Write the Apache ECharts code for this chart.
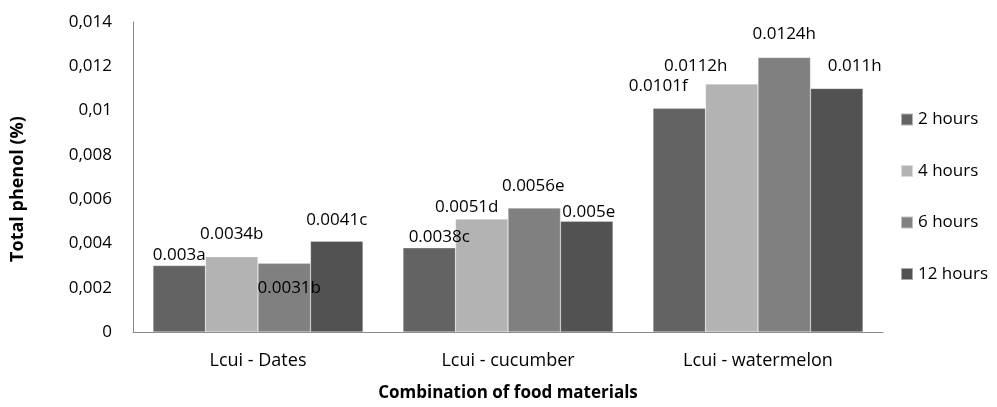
<!DOCTYPE html>
<html>
<head>
<meta charset="utf-8">
<script src="https://cdn.jsdelivr.net/npm/echarts@6/dist/echarts.min.js"></script>
<style>html,body{margin:0;padding:0;background:#fff}#c{width:997px;height:407px}</style>
</head>
<body>
<div id="c"></div>
<script>
const categories = ['Lcui - Dates', 'Lcui - cucumber', 'Lcui - watermelon'];
const seriesNames = ['2 hours', '4 hours', '6 hours', '12 hours'];
const values2h = [0.0030, 0.0038, 0.0101];
const values4h = [0.0034, 0.0051, 0.0112];
const values6h = [0.0031, 0.0056, 0.0124];
const values12h = [0.0041, 0.0050, 0.0110];
const labels2h = ['0.003a', '0.0038c', '0.0101f'];
const labels4h = ['0.0034b', '0.0051d', '0.0112h'];
const labels6h = ['0.0031b', '0.0056e', '0.0124h'];
const labels12h = ['0.0041c', '0.005e', '0.011h'];
const yTicks = ['0', '0,002', '0,004', '0,006', '0,008', '0,01', '0,012', '0,014'];

// label placement tweaks (style only)
const offs = [
  [[0, 3], [10, 3], [-21, -9]],
  [[0, -9], [-15, 2], [-36, -4]],
  [[5, 38], [-1, -8], [0, -10]],
  [[0, -8], [2, 4], [18, -9]]
];
const colors = ['#636363', '#b3b3b3', '#808080', '#525252'];
const allVals = [values2h, values4h, values6h, values12h];
const allLabs = [labels2h, labels4h, labels6h, labels12h];
const FONT = 'Open Sans';

const series = seriesNames.map((n, si) => ({
  name: n,
  type: 'bar',
  barGap: '0%',
  barCategoryGap: '16%',
  itemStyle: { color: colors[si], borderColor: 'rgba(255,255,255,0.5)', borderWidth: 0.5 },
  data: allVals[si].map((v, ci) => ({
    value: v,
    label: {
      show: true, position: 'top', distance: 5,
      offset: offs[si][ci],
      formatter: () => allLabs[si][ci],
      color: '#000', fontFamily: FONT, fontSize: 17
    }
  }))
}));

const chart = echarts.init(document.getElementById('c'), null, { renderer: 'canvas' });
chart.setOption({
  animation: false,
  textStyle: { fontFamily: FONT },
  color: colors,
  grid: { left: 133, top: 22, right: 114, bottom: 74 },
  legend: {
    orient: 'vertical', right: 4, top: 106, itemGap: 34.5,
    itemWidth: 12, itemHeight: 12, icon: 'rect',
    textStyle: { color: '#000', fontFamily: FONT, fontSize: 17 },
    data: seriesNames
  },
  xAxis: {
    type: 'category', data: categories,
    name: 'Combination of food materials', nameLocation: 'middle', nameGap: 53,
    nameTextStyle: { color: '#000', fontWeight: 'bold', fontSize: 17, fontFamily: FONT },
    axisLine: { lineStyle: { color: '#888', width: 1 } },
    axisTick: { show: false },
    axisLabel: { color: '#000', fontSize: 18, margin: 20, fontFamily: FONT }
  },
  yAxis: {
    type: 'value', min: 0, max: 0.014, interval: 0.002,
    name: 'Total phenol (%)', nameLocation: 'middle', nameGap: 106, nameRotate: 90,
    nameTextStyle: { color: '#000', fontWeight: 'bold', fontSize: 18, fontFamily: FONT, padding: [0, 24, 0, 0] },
    axisLine: { show: true, lineStyle: { color: '#888', width: 1 } },
    axisTick: { show: false },
    splitLine: { show: false },
    axisLabel: {
      color: '#000', fontSize: 17, margin: 21, fontFamily: FONT,
      formatter: (v) => yTicks[Math.round(v / 0.002)]
    }
  },
  series: series
});
</script>
</body>
</html>
